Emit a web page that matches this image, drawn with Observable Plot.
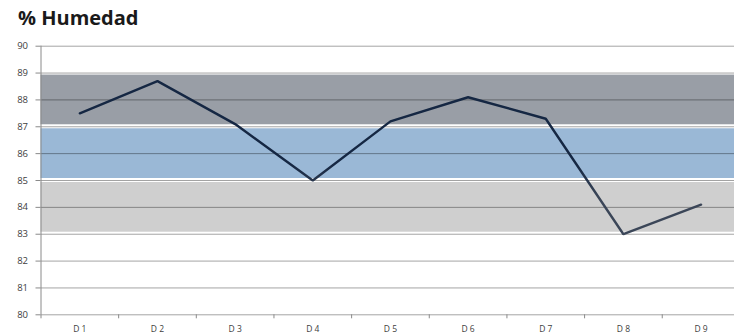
<!DOCTYPE html>
<html><head><meta charset="utf-8">
<script src="https://cdn.jsdelivr.net/npm/d3@7"></script>
<script src="https://cdn.jsdelivr.net/npm/@observablehq/plot@0.6"></script>
<style>
body{margin:0;background:#fff;overflow:hidden;font-family:"Open Sans",sans-serif}
#title{height:30px;position:relative}
#title span{position:absolute;left:18px;top:8px;font-size:20px;font-weight:700;line-height:20px;color:#1a1a1a;white-space:nowrap}
</style>
</head><body>
<div id="title"><span>% Humedad</span></div>
<div id="chart"></div>
<script>
const categories = ["D 1","D 2","D 3","D 4","D 5","D 6","D 7","D 8","D 9"];
const values = [87.5, 88.7, 87.1, 85.0, 87.2, 88.1, 87.3, 83.0, 84.1];
const yTicks = [80,81,82,83,84,85,86,87,88,89,90];
const bandLow = [83, 85, 87];
const bandHigh = [85, 87, 89];
const bandColors = ["#cfcfcf", "#9ab8d6", "#999ea6"];

const points = categories.map((c, i) => ({i: i + 1, v: values[i]}));
const bands = bandLow.map((lo, k) => ({lo, hi: bandHigh[k], color: bandColors[k]}));
const xMin = 0.5, xMax = categories.length + 0.5;
const boundaries = d3.range(categories.length + 1).map(k => k + 0.5);

const plot = Plot.plot({
  width: 734,
  height: 304,
  marginLeft: 40.5,
  marginRight: -5.4,
  marginTop: 15.7,
  marginBottom: 19.7,
  style: {fontFamily: "Open Sans, sans-serif", fontSize: "9px", background: "#fff", overflow: "hidden"},
  x: {type: "linear", domain: [xMin, xMax], label: null},
  y: {domain: [80, 90], label: null},
  marks: [
    Plot.rect(bands, {x1: () => xMin, x2: () => xMax, y1: "lo", y2: "hi", fill: "color", insetTop: 2, insetBottom: 2}),
    Plot.ruleY(yTicks, {stroke: "#000", strokeOpacity: 0.36}),
    Plot.ruleX([xMin], {y1: 80, y2: 90, stroke: "#8a8a8a"}),
    Plot.axisY({ticks: yTicks, tickSize: 5, tickPadding: 8, stroke: "#8a8a8a", fill: "#404040", fontSize: 9.5, tickFormat: d => String(d)}),
    Plot.axisX({ticks: boundaries, tickSize: 4, stroke: "#8a8a8a", tickFormat: () => ""}),
    Plot.axisX({ticks: d3.range(1, categories.length + 1), tickSize: 0, tickPadding: 11, fill: "#404040", fontSize: 8.5, tickFormat: i => categories[i - 1]}),
    Plot.line(points, {x: "i", y: "v", stroke: "url(#lineGrad)", strokeWidth: 2.4, strokeLinejoin: "miter"})
  ]
});
document.getElementById("chart").appendChild(plot);

const ys = plot.scale("y");
const ns = "http://www.w3.org/2000/svg";
const defs = document.createElementNS(ns, "defs");
const lg = document.createElementNS(ns, "linearGradient");
lg.setAttribute("id", "lineGrad");
lg.setAttribute("gradientUnits", "userSpaceOnUse");
lg.setAttribute("x1", 0); lg.setAttribute("x2", 0);
lg.setAttribute("y1", ys.apply(85.6));
lg.setAttribute("y2", ys.apply(84.4));
[["0", "#152743"], ["1", "#3b4658"]].forEach(([o, c]) => {
  const s = document.createElementNS(ns, "stop");
  s.setAttribute("offset", o); s.setAttribute("stop-color", c);
  lg.appendChild(s);
});
defs.appendChild(lg);
plot.insertBefore(defs, plot.firstChild);
</script>
</body></html>
